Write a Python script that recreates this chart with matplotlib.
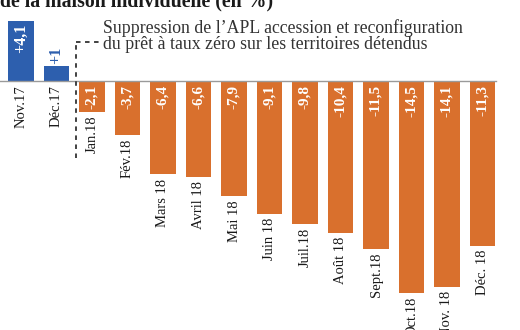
import matplotlib.pyplot as plt

# data
months = ["Nov.17", "Déc.17", "Jan.18", "Fév.18", "Mars 18", "Avril 18", "Mai 18",
          "Juin 18", "Juil.18", "Août 18", "Sept.18", "Oct.18", "Nov. 18", "Déc. 18"]
values = [4.1, 1, -2.1, -3.7, -6.4, -6.6, -7.9, -9.1, -9.8, -10.4, -11.5, -14.5, -14.1, -11.3]
value_labels = ["+4,1", "+1", "-2,1", "-3,7", "-6,4", "-6,6", "-7,9", "-9,1", "-9,8",
                "-10,4", "-11,5", "-14,5", "-14,1", "-11,3"]

BLUE = "#2d5fae"
ORANGE = "#d9702d"
SERIF = "Liberation Serif"

fig = plt.figure(figsize=(5.2, 3.3), dpi=100)
ax = fig.add_axes([0, 0, 1, 1])
ax.axis("off")

# 35.5 px per bar, 14.6 px per unit, zero line at y=81 px
PX = 14.6
ax.set_xlim(-21 / 35.5, (520 - 21) / 35.5)
ax.set_ylim((81 - 330) / PX, 81 / PX)

x = list(range(len(values)))
colors = [BLUE if v > 0 else ORANGE for v in values]
ax.bar(x, values, width=0.73, color=colors, zorder=2)
ax.plot([-0.6, 13.38], [0, 0], color="#9a9a9a", lw=1, zorder=3)

gap = 4 / PX
for i, (v, lab, m) in enumerate(zip(values, value_labels, months)):
    if v >= 2:
        ax.text(i, v - 2 / PX, lab, rotation=90, ha="center", va="top", color="white",
                fontsize=11.5, fontweight="bold", family=SERIF, zorder=4)
    elif v > 0:
        ax.text(i, v + 2 / PX, lab, rotation=90, ha="center", va="bottom", color=BLUE,
                fontsize=11.5, fontweight="bold", family=SERIF, zorder=4)
    else:
        ax.text(i, -gap, lab, rotation=90, ha="center", va="top", color="white",
                fontsize=11, fontweight="bold", family=SERIF, zorder=4)
    base = min(v, 0)
    ax.text(i, base - gap, m, rotation=90, ha="center", va="top", color="#1a1a1a",
            fontsize=10.5, family=SERIF, zorder=4)

# dashed separator + annotation
ytop = (81 - 42) / PX
ax.plot([1.55, 1.55], [(81 - 158) / PX, ytop], color="#333333", lw=1.3,
        ls=(0, (2.5, 2.5)), zorder=3)
ax.plot([1.55, 2.23], [ytop, ytop], color="#333333", lw=1.3, ls=(0, (2.5, 2.5)), zorder=3)
ax.text(2.32, (81 - 33) / PX, "Suppression de l’APL accession et reconfiguration",
        ha="left", va="baseline", fontsize=12.8, family=SERIF, color="#333333")
ax.text(2.32, (81 - 49) / PX, "du prêt à taux zéro sur les territoires détendus",
        ha="left", va="baseline", fontsize=12.8, family=SERIF, color="#333333")

fig.text(0.0, 1 - 6 / 330, "de la maison individuelle (en %)", ha="left", va="baseline",
         fontsize=14.3, fontweight="bold", family=SERIF, color="#1a1a1a")

fig.savefig("out.png", dpi=100)
